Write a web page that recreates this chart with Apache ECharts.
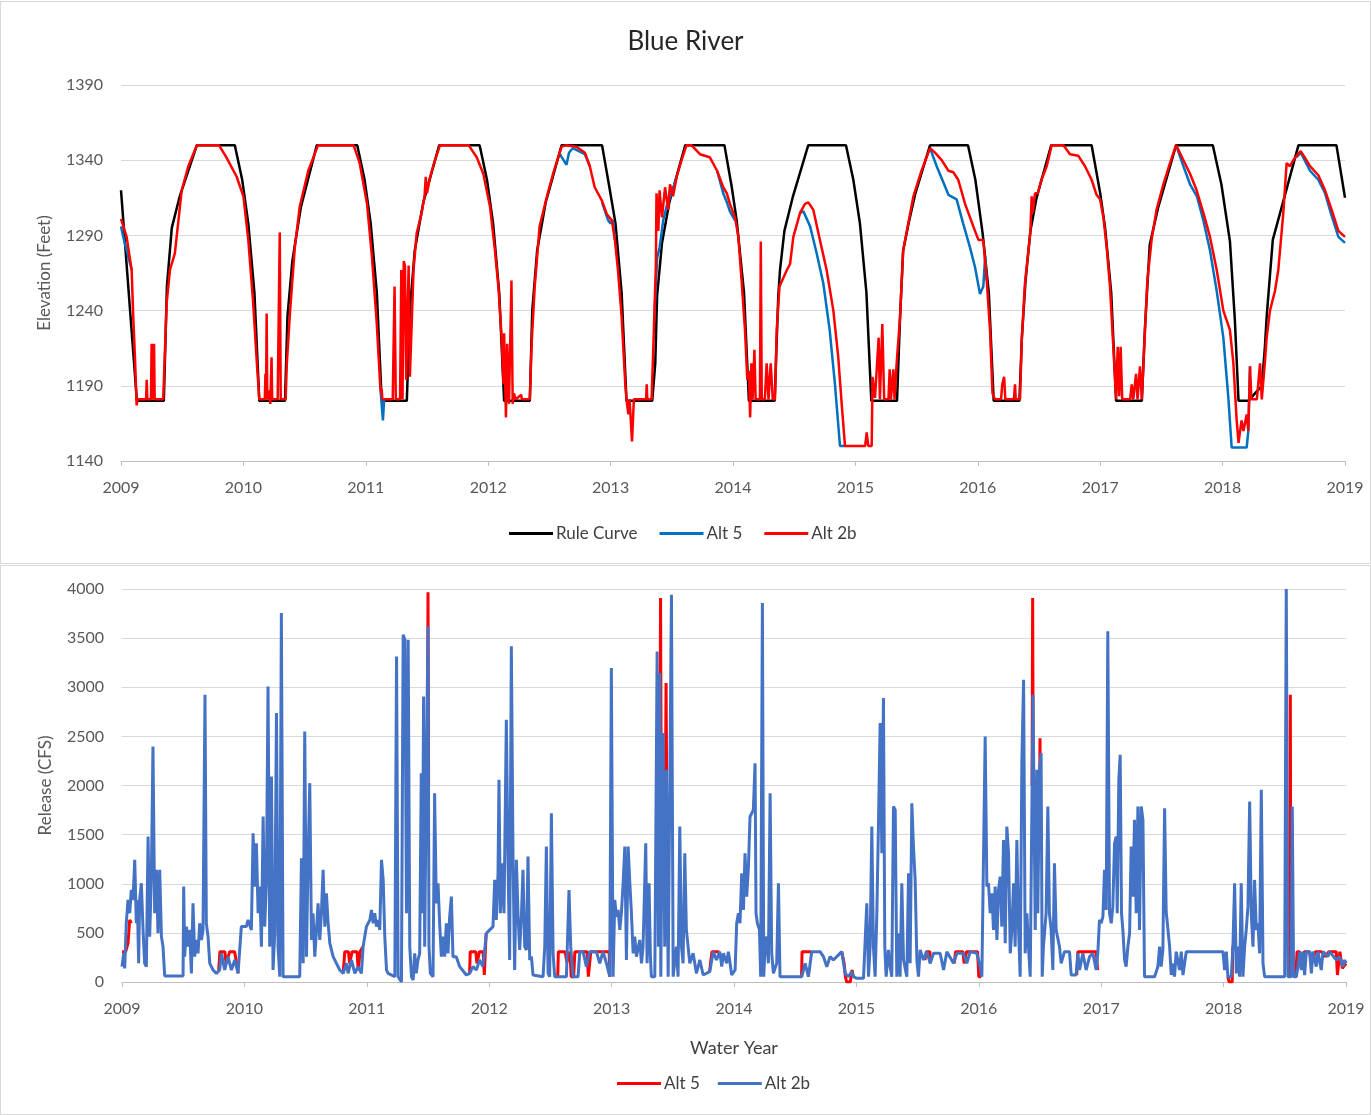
<!DOCTYPE html>
<html>
<head>
<meta charset="utf-8">
<script src="https://cdn.jsdelivr.net/npm/echarts@6/dist/echarts.min.js"></script>
<style>
body{margin:0;background:#fff;}
.panel{position:absolute;left:0;width:1369px;border:1px solid #d9d9d9;background:#fff;}
#top{top:1px;height:561px;}
#bottom{top:565px;height:548px;}
</style>
</head>
<body>
<div id="top" class="panel"></div>
<div id="bottom" class="panel"></div>
<script>
// elevation (ft) by water year
var ruleCurve = [
 [2009.00,1320],[2009.13,1180],[2009.35,1180],[2009.375,1256],[2009.415,1295],[2009.48,1316],[2009.62,1350],[2009.93,1350],
 [2009.99,1327],[2010.04,1298],[2010.09,1252],[2010.13,1180],[2010.34,1180],[2010.36,1236],[2010.40,1273],[2010.47,1309],[2010.60,1350],[2010.93,1350],
 [2010.99,1327],[2011.04,1298],[2011.09,1252],[2011.13,1180],[2011.335,1180],[2011.36,1240],[2011.40,1280],[2011.47,1312],[2011.60,1350],[2011.93,1350],
 [2011.99,1327],[2012.04,1298],[2012.09,1252],[2012.13,1180],[2012.34,1180],[2012.36,1240],[2012.40,1280],[2012.47,1312],[2012.60,1350],[2012.93,1350],
 [2012.99,1322],[2013.04,1298],[2013.09,1252],[2013.13,1180],[2013.34,1180],[2013.365,1205],[2013.38,1250],[2013.42,1285],[2013.48,1312],[2013.61,1350],[2013.93,1350],
 [2013.99,1322],[2014.03,1300],[2014.09,1252],[2014.13,1180],[2014.34,1180],[2014.37,1250],[2014.384,1267],[2014.42,1293],[2014.49,1316],[2014.615,1350],[2014.923,1350],
 [2014.983,1327],[2015.037,1298],[2015.09,1252],[2015.13,1180],[2015.34,1180],[2015.365,1236],[2015.39,1280],[2015.44,1300],[2015.49,1318],[2015.61,1350],[2015.92,1350],
 [2015.98,1327],[2016.04,1291],[2016.09,1252],[2016.13,1180],[2016.34,1180],[2016.36,1222],[2016.39,1260],[2016.43,1293],[2016.48,1315],[2016.60,1350],[2016.93,1350],
 [2017.00,1318],[2017.04,1295],[2017.09,1252],[2017.13,1180],[2017.34,1180],[2017.366,1229],[2017.405,1284],[2017.475,1309],[2017.62,1350],[2017.92,1350],
 [2017.99,1324],[2018.06,1286],[2018.10,1234],[2018.13,1180],[2018.21,1180],[2018.32,1190],[2018.345,1215],[2018.36,1236],[2018.41,1287],[2018.49,1311],[2018.62,1350],[2018.93,1350],[2019.00,1315]
];

// Alt 5 only where it separates from Alt 2b (the rest sits under the red line)
var alt5Elev = [
 [2009.0,1296],[2009.03,1285],[2009.046,1280],[2009.087,1267],[2009.09,'-'],
 [2011.117,1191],[2011.14,1167],[2011.15,1181],[2011.16,'-'],
 [2012.58,1345],[2012.60,1342],[2012.64,1337],[2012.66,1345],[2012.69,1348],[2012.74,1346],[2012.79,1344],[2012.83,1336],[2012.84,'-'],
 [2012.93,1312],[2012.98,1300],[2013.0,1298],[2013.02,1300],[2013.035,1287],[2013.04,'-'],
 [2013.36,1240],[2013.38,1275],[2013.40,1282],[2013.43,1300],[2013.46,1310],[2013.50,1318],[2013.54,1329],[2013.55,'-'],
 [2013.87,1333],[2013.92,1318],[2013.95,1312],[2013.975,1306],[2014.016,1300],[2014.02,'-'],
 [2014.548,1305],[2014.575,1306],[2014.63,1296],[2014.684,1278],[2014.738,1258],[2014.79,1227],[2014.833,1191],[2014.874,1150],[2014.915,1150],[2014.92,'-'],
 [2015.61,1348],[2015.664,1336],[2015.72,1325],[2015.76,1317],[2015.827,1314],[2015.88,1298],[2015.936,1282],[2015.977,1269],[2016.018,1251],[2016.045,1256],[2016.06,1276],[2016.073,1260],[2016.08,'-'],
 [2017.62,1350],[2017.68,1336],[2017.734,1324],[2017.79,1316],[2017.843,1300],[2017.897,1280],[2017.952,1253],[2018.006,1222],[2018.047,1182],[2018.074,1149],[2018.197,1149],[2018.21,1160],[2018.224,1203],[2018.23,'-'],
 [2018.605,1342],[2018.638,1345],[2018.67,1340],[2018.714,1333],[2018.782,1327],[2018.837,1318],[2018.891,1303],[2018.946,1289],[2019.0,1285]
];

var alt2bElev = [
 [2009.0,1301],[2009.046,1289],[2009.087,1267],[2009.10,1236],[2009.114,1209],[2009.128,1177],[2009.135,1181],[2009.205,1181],[2009.21,1194],[2009.215,1181],
 [2009.245,1181],[2009.25,1218],[2009.255,1181],[2009.265,1181],[2009.27,1218],[2009.275,1181],[2009.345,1181],[2009.373,1245],[2009.40,1267],[2009.44,1278],
 [2009.496,1320],[2009.55,1336],[2009.62,1350],[2009.80,1350],[2009.86,1342],[2009.945,1329],[2010.0,1316],[2010.04,1287],[2010.08,1245],[2010.11,1205],[2010.13,1181],
 [2010.175,1181],[2010.18,1198],[2010.185,1181],[2010.19,1238],[2010.195,1181],[2010.21,1187],[2010.22,1178],[2010.23,1209],[2010.235,1181],[2010.28,1181],
 [2010.297,1292],[2010.305,1181],[2010.345,1181],[2010.355,1205],[2010.38,1238],[2010.42,1282],[2010.46,1309],[2010.53,1333],[2010.61,1350],[2010.90,1350],
 [2010.95,1338],[2011.01,1311],[2011.05,1276],[2011.09,1231],[2011.117,1191],[2011.125,1185],[2011.13,1188],[2011.135,1181],[2011.22,1181],[2011.235,1256],
 [2011.245,1181],[2011.28,1181],[2011.29,1267],[2011.30,1181],[2011.31,1273],[2011.32,1270],[2011.33,1194],[2011.35,1270],[2011.36,1196],[2011.39,1267],
 [2011.415,1291],[2011.456,1305],[2011.48,1316],[2011.49,1329],[2011.50,1318],[2011.52,1327],[2011.55,1336],[2011.606,1350],[2011.84,1350],[2011.906,1342],
 [2011.96,1331],[2012.015,1309],[2012.055,1280],[2012.083,1256],[2012.11,1222],[2012.125,1191],[2012.13,1225],[2012.145,1169],[2012.155,1218],[2012.17,1178],
 [2012.19,1260],[2012.20,1178],[2012.21,1185],[2012.225,1181],[2012.27,1184],[2012.275,1181],[2012.34,1181],[2012.355,1218],[2012.38,1256],[2012.42,1296],
 [2012.48,1316],[2012.53,1331],[2012.60,1349],[2012.64,1350],[2012.72,1349],[2012.79,1345],[2012.83,1336],[2012.87,1322],[2012.93,1313],[2012.97,1304],
 [2013.01,1300],[2013.035,1287],[2013.06,1267],[2013.09,1236],[2013.12,1191],[2013.13,1181],[2013.145,1171],[2013.155,1181],[2013.175,1153],[2013.19,1181],
 [2013.29,1181],[2013.295,1191],[2013.30,1181],[2013.335,1181],[2013.35,1218],[2013.37,1271],[2013.375,1318],[2013.39,1293],[2013.40,1320],[2013.42,1302],
 [2013.445,1322],[2013.47,1307],[2013.485,1324],[2013.51,1316],[2013.54,1329],[2013.58,1340],[2013.62,1350],[2013.66,1350],[2013.73,1344],[2013.81,1342],
 [2013.87,1333],[2013.92,1322],[2013.95,1318],[2013.975,1311],[2014.016,1302],[2014.044,1289],[2014.07,1260],[2014.098,1227],[2014.117,1194],[2014.13,1200],
 [2014.14,1169],[2014.15,1205],[2014.16,1181],[2014.175,1214],[2014.185,1181],[2014.22,1181],[2014.227,1286],[2014.235,1181],[2014.26,1181],[2014.275,1205],
 [2014.29,1181],[2014.308,1205],[2014.325,1181],[2014.343,1181],[2014.357,1227],[2014.38,1256],[2014.44,1267],[2014.466,1271],[2014.493,1289],[2014.548,1305],
 [2014.588,1311],[2014.616,1312],[2014.656,1307],[2014.71,1287],[2014.765,1267],[2014.82,1240],[2014.86,1209],[2014.888,1178],[2014.915,1150],[2015.08,1150],
 [2015.092,1159],[2015.105,1150],[2015.133,1150],[2015.14,1196],[2015.16,1182],[2015.19,1222],[2015.20,1181],[2015.22,1231],[2015.235,1181],[2015.27,1181],
 [2015.28,1201],[2015.29,1181],[2015.31,1201],[2015.32,1181],[2015.337,1205],[2015.365,1236],[2015.39,1280],[2015.42,1293],[2015.474,1316],[2015.54,1333],
 [2015.61,1348],[2015.65,1345],[2015.705,1340],[2015.76,1333],[2015.80,1332],[2015.84,1327],[2015.896,1311],[2015.963,1296],[2016.005,1287],[2016.045,1287],
 [2016.073,1260],[2016.10,1227],[2016.12,1185],[2016.14,1181],[2016.19,1181],[2016.20,1191],[2016.215,1196],[2016.225,1181],[2016.295,1181],[2016.304,1191],
 [2016.31,1181],[2016.345,1181],[2016.36,1222],[2016.385,1258],[2016.43,1293],[2016.44,1316],[2016.45,1305],[2016.467,1318],[2016.49,1318],[2016.52,1327],
 [2016.563,1336],[2016.604,1350],[2016.70,1350],[2016.753,1344],[2016.82,1343],[2016.876,1336],[2016.93,1327],[2016.97,1317],[2016.999,1314],[2017.026,1302],
 [2017.053,1282],[2017.08,1256],[2017.107,1216],[2017.13,1181],[2017.143,1216],[2017.155,1183],[2017.167,1216],[2017.18,1181],[2017.245,1181],[2017.257,1191],
 [2017.27,1181],[2017.285,1181],[2017.293,1198],[2017.305,1181],[2017.318,1181],[2017.325,1203],[2017.34,1181],[2017.366,1227],[2017.385,1260],[2017.42,1287],
 [2017.46,1307],[2017.516,1324],[2017.57,1338],[2017.62,1350],[2017.68,1340],[2017.734,1331],[2017.788,1320],[2017.843,1305],[2017.897,1289],[2017.952,1267],
 [2018.006,1240],[2018.06,1227],[2018.088,1205],[2018.115,1167],[2018.13,1152],[2018.155,1167],[2018.17,1160],[2018.197,1171],[2018.21,1160],[2018.224,1203],
 [2018.235,1181],[2018.28,1181],[2018.306,1205],[2018.32,1181],[2018.345,1205],[2018.36,1222],[2018.387,1240],[2018.428,1253],[2018.455,1267],[2018.496,1305],
 [2018.523,1338],[2018.55,1336],[2018.578,1340],[2018.605,1343],[2018.638,1346],[2018.67,1342],[2018.714,1336],[2018.782,1330],[2018.837,1320],[2018.891,1307],
 [2018.946,1293],[2019.0,1289]
];

// release (cfs); Alt 5 only where it shows from under Alt 2b
var alt5Release = [
 [2009.0,309],[2009.03,309],[2009.049,394],[2009.063,632],[2009.076,598],[2009.08,'-'],
 [2009.79,122],[2009.80,309],[2009.84,309],[2009.85,190],[2009.88,309],[2009.92,309],[2009.95,88],[2009.96,'-'],
 [2010.807,88],[2010.82,309],[2010.85,309],[2010.86,190],[2010.88,309],[2010.92,309],[2010.93,122],[2010.945,309],[2010.97,360],[2010.98,'-'],
 [2011.495,2000],[2011.50,3966],[2011.505,2000],[2011.51,'-'],
 [2011.84,88],[2011.845,309],[2011.89,309],[2011.90,190],[2011.92,309],[2011.95,309],[2011.96,71],[2011.975,496],[2011.98,'-'],
 [2012.56,54],[2012.565,309],[2012.62,309],[2012.635,200],[2012.66,309],[2012.67,54],[2012.69,54],[2012.70,309],[2012.72,309],[2012.80,309],[2012.81,54],[2012.83,309],[2012.98,309],[2012.985,54],[2012.99,'-'],
 [2013.394,2000],[2013.40,3908],[2013.405,2000],[2013.41,'-'],
 [2013.44,2000],[2013.445,3042],[2013.45,2000],[2013.455,'-'],
 [2013.80,105],[2013.82,309],[2013.88,309],[2013.89,'-'],
 [2014.552,54],[2014.556,309],[2014.63,309],[2014.64,'-'],
 [2014.88,309],[2014.90,190],[2014.91,54],[2014.92,0],[2014.95,0],[2014.965,122],[2014.975,54],[2014.98,'-'],
 [2015.56,224],[2015.57,309],[2015.60,309],[2015.605,190],[2015.61,'-'],
 [2015.80,190],[2015.81,309],[2015.87,309],[2015.88,190],[2015.90,309],[2015.99,309],[2016.0,54],[2016.02,54],[2016.03,'-'],
 [2016.435,2000],[2016.44,3908],[2016.445,2000],[2016.45,'-'],
 [2016.495,1500],[2016.50,2482],[2016.505,1500],[2016.51,'-'],
 [2016.80,71],[2016.81,309],[2016.96,309],[2016.97,122],[2016.98,'-'],
 [2018.035,54],[2018.045,0],[2018.06,20],[2018.07,0],[2018.075,360],[2018.08,'-'],
 [2018.54,54],[2018.545,2924],[2018.55,54],[2018.555,'-'],
 [2018.59,54],[2018.60,309],[2018.62,309],[2018.64,190],[2018.66,309],[2018.70,309],[2018.72,200],[2018.75,309],[2018.80,309],[2018.83,258],
 [2018.86,309],[2018.92,309],[2018.93,71],[2018.95,309],[2018.97,140],[2019.0,190]
];

var alt2bRelease = [
 [2009.000,156],[2009.014,292],[2009.022,139],[2009.035,598],[2009.049,835],[2009.063,700],[2009.076,937],[2009.090,835],[2009.104,1243],[2009.117,598],
 [2009.125,835],[2009.136,190],[2009.144,835],[2009.158,1005],[2009.172,530],[2009.185,190],[2009.199,156],[2009.213,1480],[2009.226,462],[2009.240,1073],
 [2009.253,2397],[2009.267,700],[2009.281,1141],[2009.294,496],[2009.308,1141],[2009.322,462],[2009.335,360],[2009.349,61],[2009.499,61],[2009.504,971],
 [2009.512,258],[2009.526,564],[2009.540,360],[2009.553,530],[2009.567,88],[2009.580,801],[2009.594,258],[2009.608,428],[2009.621,292],[2009.635,598],
 [2009.649,428],[2009.662,530],[2009.678,2924],[2009.689,598],[2009.703,462],[2009.717,190],[2009.744,122],[2009.771,88],[2009.798,122],[2009.812,292],
 [2009.839,122],[2009.866,258],[2009.894,122],[2009.921,224],[2009.948,88],[2009.962,88],[2009.975,564],[2010.016,564],[2010.030,632],[2010.057,530],
 [2010.071,1514],[2010.084,971],[2010.098,1412],[2010.112,700],[2010.125,971],[2010.139,360],[2010.153,1684],[2010.166,564],[2010.180,1039],[2010.193,3008],
 [2010.207,360],[2010.221,2092],[2010.234,122],[2010.248,496],[2010.262,2737],[2010.275,360],[2010.289,54],[2010.302,3756],[2010.316,54],[2010.452,54],
 [2010.466,1260],[2010.480,190],[2010.493,2550],[2010.507,258],[2010.520,1243],[2010.534,2024],[2010.548,428],[2010.561,700],[2010.575,258],[2010.589,530],
 [2010.602,801],[2010.616,428],[2010.629,700],[2010.643,1141],[2010.657,564],[2010.670,903],[2010.684,598],[2010.698,394],[2010.725,258],[2010.752,190],
 [2010.779,122],[2010.807,88],[2010.834,190],[2010.847,88],[2010.875,224],[2010.902,88],[2010.929,156],[2010.956,88],[2010.970,360],[2010.997,564],
 [2011.025,632],[2011.038,733],[2011.052,598],[2011.065,700],[2011.079,564],[2011.093,632],[2011.106,530],[2011.120,1243],[2011.134,1039],[2011.147,462],
 [2011.161,122],[2011.174,88],[2011.229,54],[2011.243,3314],[2011.256,54],[2011.283,0],[2011.297,3535],[2011.311,3484],[2011.324,700],[2011.338,3484],
 [2011.351,360],[2011.365,54],[2011.379,20],[2011.391,292],[2011.404,88],[2011.418,224],[2011.432,292],[2011.445,2125],[2011.454,700],[2011.464,2907],
 [2011.473,360],[2011.486,2058],[2011.500,3620],[2011.508,360],[2011.519,88],[2011.541,54],[2011.554,1922],[2011.568,801],[2011.582,1005],[2011.595,598],
 [2011.609,258],[2011.622,462],[2011.636,258],[2011.650,598],[2011.663,292],[2011.677,666],[2011.691,869],[2011.704,258],[2011.731,258],[2011.759,156],
 [2011.813,71],[2011.840,88],[2011.868,156],[2011.895,122],[2011.922,224],[2011.949,156],[2011.977,496],[2012.004,530],[2012.031,564],[2012.045,1039],
 [2012.058,632],[2012.072,1107],[2012.080,2058],[2012.091,700],[2012.107,1209],[2012.121,700],[2012.140,2669],[2012.154,1209],[2012.167,224],[2012.181,3416],
 [2012.195,1209],[2012.208,122],[2012.222,1243],[2012.236,666],[2012.249,326],[2012.263,666],[2012.276,1141],[2012.290,360],[2012.304,326],[2012.317,1277],
 [2012.331,224],[2012.345,258],[2012.358,71],[2012.440,54],[2012.454,360],[2012.467,1379],[2012.481,88],[2012.494,54],[2012.508,1718],[2012.522,292],
 [2012.535,54],[2012.631,54],[2012.652,937],[2012.666,360],[2012.685,54],[2012.726,54],[2012.740,309],[2012.767,309],[2012.794,156],[2012.821,309],
 [2012.876,309],[2012.903,190],[2012.930,309],[2012.958,190],[2012.985,54],[2012.998,3195],[2013.012,54],[2013.026,835],[2013.039,666],[2013.053,733],
 [2013.067,530],[2013.080,700],[2013.094,1005],[2013.108,1379],[2013.121,224],[2013.135,1379],[2013.149,1005],[2013.162,700],[2013.176,292],[2013.189,462],
 [2013.203,258],[2013.230,428],[2013.244,190],[2013.257,360],[2013.279,1412],[2013.290,190],[2013.306,1005],[2013.317,258],[2013.325,54],[2013.353,54],
 [2013.372,3365],[2013.383,360],[2013.394,3144],[2013.402,54],[2013.413,1718],[2013.421,2533],[2013.434,360],[2013.448,2160],[2013.462,54],[2013.475,54],
 [2013.489,3942],[2013.503,54],[2013.530,360],[2013.543,54],[2013.557,1582],[2013.571,360],[2013.584,190],[2013.598,1311],[2013.611,530],[2013.625,360],
 [2013.639,190],[2013.666,292],[2013.693,88],[2013.721,224],[2013.748,71],[2013.802,105],[2013.830,309],[2013.857,224],[2013.884,309],[2013.900,156],
 [2013.913,292],[2013.940,190],[2013.954,309],[2013.968,190],[2013.981,71],[2014.009,122],[2014.022,598],[2014.036,700],[2014.049,598],[2014.063,1107],
 [2014.077,733],[2014.090,1311],[2014.104,869],[2014.118,1175],[2014.131,1684],[2014.145,1718],[2014.158,1752],[2014.172,2227],[2014.180,700],[2014.191,598],
 [2014.208,530],[2014.218,54],[2014.232,3857],[2014.243,54],[2014.254,360],[2014.267,462],[2014.281,190],[2014.295,1922],[2014.308,292],[2014.322,88],
 [2014.349,190],[2014.363,1005],[2014.376,54],[2014.554,54],[2014.581,190],[2014.608,54],[2014.635,309],[2014.703,309],[2014.731,258],[2014.758,156],
 [2014.785,258],[2014.812,224],[2014.840,258],[2014.880,309],[2014.908,88],[2014.935,54],[2014.962,105],[2014.976,54],[2015.003,37],[2015.058,37],
 [2015.085,801],[2015.099,54],[2015.112,360],[2015.126,1582],[2015.139,360],[2015.153,54],[2015.167,700],[2015.180,1582],[2015.194,2635],[2015.208,1311],
 [2015.221,2890],[2015.232,360],[2015.243,54],[2015.262,326],[2015.276,156],[2015.289,54],[2015.303,1786],[2015.317,1752],[2015.330,54],[2015.344,496],
 [2015.357,54],[2015.371,1005],[2015.385,224],[2015.412,54],[2015.426,1107],[2015.439,190],[2015.453,1820],[2015.466,1379],[2015.480,1039],[2015.494,224],
 [2015.507,54],[2015.521,326],[2015.548,224],[2015.576,309],[2015.603,190],[2015.630,292],[2015.684,292],[2015.712,122],[2015.739,309],[2015.793,190],
 [2015.821,292],[2015.875,292],[2015.902,190],[2015.930,309],[2015.984,292],[2016.011,156],[2016.025,54],[2016.039,54],[2016.052,2499],[2016.066,971],
 [2016.079,1005],[2016.093,700],[2016.107,903],[2016.120,530],[2016.134,971],[2016.148,428],[2016.161,937],[2016.175,1073],[2016.188,564],[2016.202,1446],
 [2016.216,394],[2016.229,1582],[2016.243,1311],[2016.257,292],[2016.270,530],[2016.284,1005],[2016.297,360],[2016.311,1446],[2016.325,530],[2016.338,54],
 [2016.352,2261],[2016.366,3076],[2016.379,292],[2016.393,700],[2016.406,360],[2016.420,54],[2016.443,2924],[2016.461,530],[2016.475,2160],[2016.482,700],
 [2016.496,2160],[2016.509,2329],[2016.518,54],[2016.528,360],[2016.550,700],[2016.564,1786],[2016.577,700],[2016.591,530],[2016.605,122],[2016.618,1209],
 [2016.632,530],[2016.659,360],[2016.673,190],[2016.700,309],[2016.741,309],[2016.755,71],[2016.795,71],[2016.809,292],[2016.823,122],[2016.850,292],
 [2016.877,122],[2016.905,258],[2016.932,292],[2016.959,122],[2016.973,309],[2016.986,632],[2017.000,598],[2017.014,666],[2017.027,1141],[2017.041,733],
 [2017.054,3569],[2017.068,700],[2017.082,598],[2017.095,767],[2017.109,1412],[2017.123,1480],[2017.131,700],[2017.144,2058],[2017.155,2312],[2017.166,700],
 [2017.177,530],[2017.191,224],[2017.204,156],[2017.218,360],[2017.232,496],[2017.245,1379],[2017.259,869],[2017.272,1650],[2017.286,700],[2017.300,1786],
 [2017.313,530],[2017.327,1786],[2017.341,1650],[2017.354,54],[2017.436,54],[2017.463,156],[2017.477,360],[2017.490,156],[2017.504,326],[2017.518,1769],
 [2017.531,716],[2017.545,700],[2017.559,360],[2017.572,71],[2017.586,190],[2017.599,54],[2017.613,309],[2017.640,122],[2017.654,309],[2017.668,71],
 [2017.695,309],[2017.995,309],[2018.008,122],[2018.022,309],[2018.035,54],[2018.063,54],[2018.076,360],[2018.090,1005],[2018.104,88],[2018.117,360],
 [2018.131,54],[2018.144,1005],[2018.158,54],[2018.172,360],[2018.185,530],[2018.199,767],[2018.213,1837],[2018.226,700],[2018.240,360],[2018.253,1039],
 [2018.267,530],[2018.281,598],[2018.294,292],[2018.308,1956],[2018.322,190],[2018.335,54],[2018.499,54],[2018.512,4000],[2018.526,54],[2018.553,54],
 [2018.561,1786],[2018.572,54],[2018.594,54],[2018.607,156],[2018.621,309],[2018.635,122],[2018.648,309],[2018.662,71],[2018.676,309],[2018.703,309],
 [2018.717,88],[2018.730,309],[2018.757,156],[2018.771,309],[2018.798,122],[2018.812,309],[2018.853,258],[2018.866,309],[2018.921,224],[2018.948,258],
 [2018.975,156],[2018.989,224],[2019.000,190]
];

var FONT = 'Lato';
var GREY = '#595959';

function plain(v) { return String(v); }

function lineSeries(name, data, color, width) {
  return {
    name: name, type: 'line', data: data, showSymbol: false, symbol: 'none',
    lineStyle: { color: color, width: width }, itemStyle: { color: color },
    animation: false
  };
}

function xAxisOpt(extra) {
  var o = {
    type: 'value', min: 2009, max: 2019, interval: 1,
    axisLine: { show: true, lineStyle: { color: '#bfbfbf', width: 1 } },
    axisTick: { show: true, length: 5, lineStyle: { color: '#bfbfbf' } },
    splitLine: { show: false },
    axisLabel: { color: GREY, fontFamily: FONT, fontSize: 16, margin: 19, formatter: plain }
  };
  for (var k in extra) o[k] = extra[k];
  return o;
}

function yAxisOpt(min, max, interval, name) {
  return {
    type: 'value', min: min, max: max, interval: interval,
    name: name, nameLocation: 'middle', nameGap: 68,
    nameTextStyle: { fontFamily: FONT, fontSize: 17, color: GREY },
    axisLine: { show: false }, axisTick: { show: false },
    splitLine: { lineStyle: { color: '#d9d9d9', width: 1 } },
    axisLabel: { color: GREY, fontFamily: FONT, fontSize: 16, margin: 18, formatter: plain }
  };
}

var topChart = echarts.init(document.getElementById('top'));
topChart.setOption({
  backgroundColor: '#fff',
  title: {
    text: 'Blue River', left: 'center', top: 22,
    textStyle: { fontFamily: FONT, fontSize: 26, fontWeight: 'normal', color: '#262626' }
  },
  legend: {
    top: 518, left: 503, icon: 'rect', itemWidth: 44, itemHeight: 3, itemGap: 22,
    textStyle: { fontFamily: FONT, fontSize: 17, color: '#404040', padding: [0, 0, 0, -2] },
    data: ['Rule Curve', 'Alt 5', 'Alt 2b']
  },
  grid: { left: 120, top: 83, width: 1224, height: 376 },
  xAxis: xAxisOpt({}),
  yAxis: yAxisOpt(1140, 1390, 50, 'Elevation (Feet)'),
  series: [
    lineSeries('Rule Curve', ruleCurve, '#000000', 2.5),
    lineSeries('Alt 5', alt5Elev, '#0070C0', 2.5),
    lineSeries('Alt 2b', alt2bElev, '#FF0000', 2.5)
  ]
});

var bottomChart = echarts.init(document.getElementById('bottom'));
bottomChart.setOption({
  backgroundColor: '#fff',
  legend: {
    top: 504, left: 611, icon: 'rect', itemWidth: 44, itemHeight: 3, itemGap: 18,
    textStyle: { fontFamily: FONT, fontSize: 17, color: '#404040', padding: [0, 0, 0, -2] },
    data: ['Alt 5', 'Alt 2b']
  },
  grid: { left: 121, top: 23, width: 1224, height: 393 },
  xAxis: xAxisOpt({
    name: 'Water Year', nameLocation: 'middle', nameGap: 57,
    nameTextStyle: { fontFamily: FONT, fontSize: 18, color: '#404040' }
  }),
  yAxis: yAxisOpt(0, 4000, 500, 'Release (CFS)'),
  series: [
    lineSeries('Alt 5', alt5Release, '#FF0000', 3),
    lineSeries('Alt 2b', alt2bRelease, '#4472C4', 3)
  ]
});
</script>
</body>
</html>
